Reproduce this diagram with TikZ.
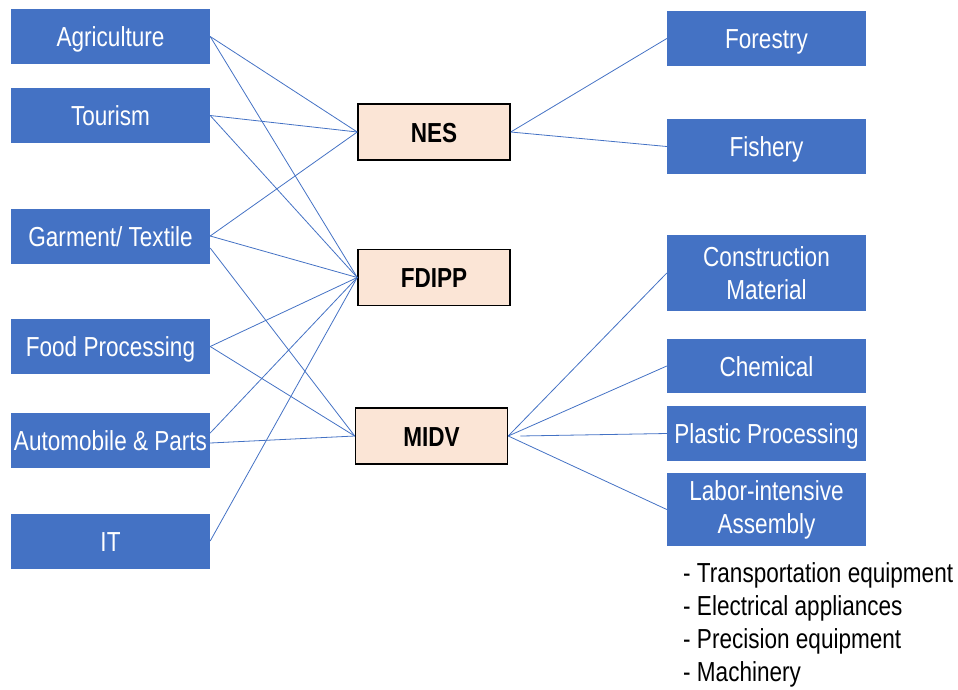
\documentclass[tikz,border=0pt]{standalone}
\usepackage{fontspec}
\setmainfont{Liberation Sans}[FakeStretch=0.82]
\usetikzlibrary{positioning}
\definecolor{secblue}{HTML}{4472C4}
\definecolor{peach}{HTML}{FBE5D6}

\begin{document}
\begin{tikzpicture}[x=1pt, y=-1pt,
    sector/.style={fill=secblue, text=white, minimum width=199pt, minimum height=55pt,
        inner sep=0pt, align=center, text height=20pt, text depth=0pt,
        font=\fontsize{27.5}{33}\selectfont},
    twoline/.style={text height={}, text depth={}},
    scheme/.style={draw, line width=1.5pt, fill=peach, minimum width=152pt, minimum height=56pt,
        text height=20pt, text depth=0pt, font=\fontsize{27.5}{33}\selectfont\bfseries},
    link/.style={secblue, line width=0.8pt}]
                        \useasboundingbox (0,0) rectangle (958,689);

                        % sectors on the left
                        \node[sector] (agri) at (110.5, 36.5) {Agriculture};
                        \node[sector] (tour) at (110.5, 115.5) {Tourism};
                        \node[sector] (garm) at (110.5, 236) {Garment/ Textile};
                        \node[sector] (food) at (110.5, 346.5) {Food Processing};
                        \node[sector] (auto) at (110.5, 440) {Automobile \& Parts};
                        \node[sector] (it) at (110.5, 541) {IT};

                        % schemes in the middle
                        \node[scheme] (nes) at (434, 132) {NES};
                        \node[scheme] (fdipp) at (434, 277.5) {FDIPP};
                        \node[scheme] (midv) at (431.5, 436) {MIDV};

                        % sectors on the right
                        \node[sector] (fore) at (766.5, 38.5) {Forestry};
                        \node[sector] (fish) at (766.5, 146.5) {Fishery};
                        \node[sector, twoline, minimum height=76pt] (cons) at (766.5, 273) {Construction\\Material};
                        \node[sector, minimum height=54pt] (chem) at (766.5, 366) {Chemical};
                        \node[sector] (plas) at (766.5, 433.5) {Plastic Processing};
                        \node[sector, twoline, minimum height=73pt] (labo) at (766.5, 509.5) {Labor-intensive\\Assembly};

                        \node[anchor=north west, inner sep=0pt, align=left,
                            font=\fontsize{27.5}{33}\selectfont] (items) at (683, 562)
                            {- Transportation equipment\\- Electrical appliances\\- Precision equipment\\- Machinery};

                        \draw
                        (agri.east) edge[link] (nes.west)
                        (agri.east) edge[link] (fdipp.west)
                        (tour.east) edge[link] (nes.west)
                        (tour.east) edge[link] (fdipp.west)
                        (garm.east) edge[link] (nes.west)
                        (garm.east) edge[link] (fdipp.west)
                        ([yshift=-12pt]garm.east) edge[link] (midv.west)
                        (food.east) edge[link] (fdipp.west)
                        (food.east) edge[link] (midv.west)
                        ([yshift=7pt]auto.east) edge[link] (fdipp.west)
                        ([yshift=-3pt]auto.east) edge[link] (midv.west)
                        (it.east) edge[link] (fdipp.west)
                        (nes.east) edge[link] (fore.west)
                        (nes.east) edge[link] (fish.west)
                        (midv.east) edge[link] (cons.west)
                        (midv.east) edge[link] (chem.west)
                        ([xshift=12pt]midv.east) edge[link] (plas.west)
                        (midv.east) edge[link] (labo.west);
                    \end{tikzpicture}
\end{document}
